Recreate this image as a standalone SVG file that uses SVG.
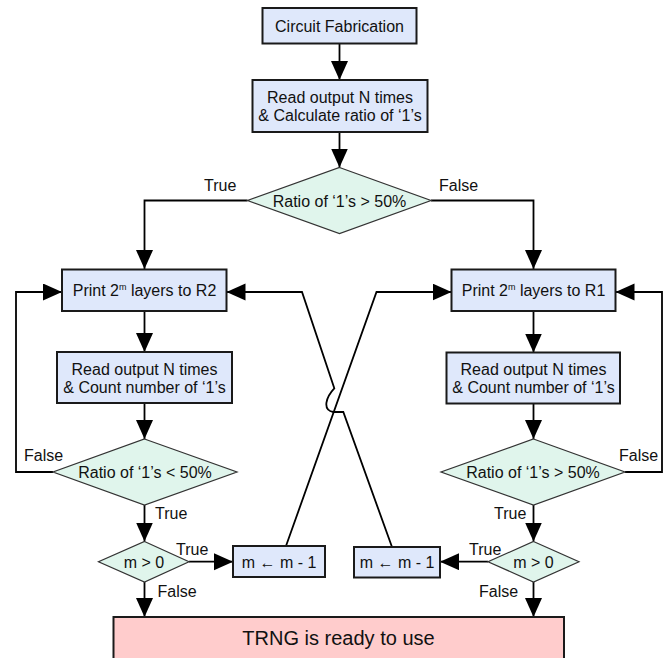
<svg xmlns="http://www.w3.org/2000/svg" width="665" height="658" viewBox="0 0 665 658">
<style>
text{font-family:"Liberation Sans",Arial,sans-serif;font-size:16px;fill:#111;text-anchor:middle}
.lbl{text-anchor:start}
.box{fill:#dfe8fb;stroke:#1a1a1a;stroke-width:2}
.dia{fill:#e0f5ec;stroke:#333;stroke-width:1.2}
.end{fill:#ffcccc;stroke:#1a1a1a;stroke-width:2}
.c{fill:none;stroke:#000;stroke-width:1.8}
.a{marker-end:url(#ah)}
</style>
<defs>
<marker id="ah" markerUnits="userSpaceOnUse" markerWidth="20" markerHeight="18" refX="19" refY="8.5" orient="auto">
<path d="M0,0 L19,8.5 L0,17 z" fill="#000"/>
</marker>
</defs>
<g id="connectors">
<path class="c a" d="M339.5,43.5 V80"/>
<path class="c a" d="M339.5,132 V167.5"/>
<path class="c a" d="M247.5,200.5 H144.5 V269"/>
<path class="c a" d="M431,200.5 H533.5 V269"/>
<path class="c a" d="M144.5,311 V352"/>
<path class="c a" d="M533.5,311 V352.5"/>
<path class="c a" d="M144.5,403 V439"/>
<path class="c a" d="M533.5,403 V439"/>
<path class="c a" d="M53,472 H16 V292 H62"/>
<path class="c a" d="M625,472 H662 V292 H615.5"/>
<path class="c a" d="M144.5,505 V541.5"/>
<path class="c a" d="M533.5,505 V541.5"/>
<path class="c a" d="M189,561.7 H233"/>
<path class="c a" d="M488,561.7 H440"/>
<path class="c a" d="M144.5,582 V617"/>
<path class="c a" d="M533.5,582 V617"/>
<path class="c a" d="M286,546 L376.5,292 H451.5"/>
<path class="c a" d="M392,547 L343.3,412 H333.3 C322,410 326,397 334.3,388.3 L302,292 H226.5"/>
<text class="lbl" x="204" y="191">True</text>
<text class="lbl" x="439" y="191">False</text>
<text class="lbl" x="24" y="461">False</text>
<text class="lbl" x="619" y="461">False</text>
<text class="lbl" x="155" y="518.5">True</text>
<text class="lbl" x="494" y="518.5">True</text>
<text class="lbl" x="176" y="555">True</text>
<text class="lbl" x="469" y="555">True</text>
<text class="lbl" x="157.5" y="596.5">False</text>
<text class="lbl" x="479" y="596.5">False</text>
</g>
<g id="n1"><rect class="box" x="262.5" y="8" width="154" height="35.5"/><text x="339.5" y="32">Circuit Fabrication</text></g>
<g id="n2"><rect class="box" x="252.5" y="80" width="175" height="52"/><text x="340" y="102.5">Read output N times</text><text x="340" y="120.5">&amp; Calculate ratio of ‘1’s</text></g>
<g id="d1"><polygon class="dia" points="339.5,167.5 431,200.5 339.5,233.5 247.5,200.5"/><text x="339.5" y="206.5">Ratio of ‘1’s &gt; 50%</text></g>
<g id="p2"><rect class="box" x="62" y="269.5" width="164.5" height="41.5"/><text x="144.5" y="296">Print 2<tspan font-size="9" dy="-6">m</tspan><tspan dy="6"> layers to R2</tspan></text></g>
<g id="p1"><rect class="box" x="451.5" y="269.5" width="164" height="41.5"/><text x="533.5" y="296">Print 2<tspan font-size="9" dy="-6">m</tspan><tspan dy="6"> layers to R1</tspan></text></g>
<g id="r2"><rect class="box" x="57" y="352" width="175" height="51"/><text x="144.5" y="374.5">Read output N times</text><text x="144.5" y="392.5">&amp; Count number of ‘1’s</text></g>
<g id="r1"><rect class="box" x="446.5" y="352.5" width="173.5" height="51"/><text x="533.5" y="374.5">Read output N times</text><text x="533.5" y="392.5">&amp; Count number of ‘1’s</text></g>
<g id="d2"><polygon class="dia" points="144.5,439 237,472 144.5,505 53,472"/><text x="145" y="478">Ratio of ‘1’s &lt; 50%</text></g>
<g id="d3"><polygon class="dia" points="533.5,439 625,472 533.5,505 441,472"/><text x="533" y="478">Ratio of ‘1’s &gt; 50%</text></g>
<g id="m2"><polygon class="dia" points="144.5,541.5 189,561.7 144.5,582 98.5,561.7"/><text x="144" y="567.5">m &gt; 0</text></g>
<g id="m1"><polygon class="dia" points="533.5,541.5 579,561.7 533.5,582 488,561.7"/><text x="533.5" y="567.5">m &gt; 0</text></g>
<g id="s2"><rect class="box" x="233" y="546" width="92" height="31"/><text x="279" y="567.5">m ← m - 1</text></g>
<g id="s1"><rect class="box" x="354" y="547" width="86" height="30.5"/><text x="397" y="567.5">m ← m - 1</text></g>
<g id="trng"><rect class="end" x="113.5" y="617" width="450.5" height="50"/><text x="338.5" y="645" style="font-size:20px">TRNG is ready to use</text></g>
</svg>
